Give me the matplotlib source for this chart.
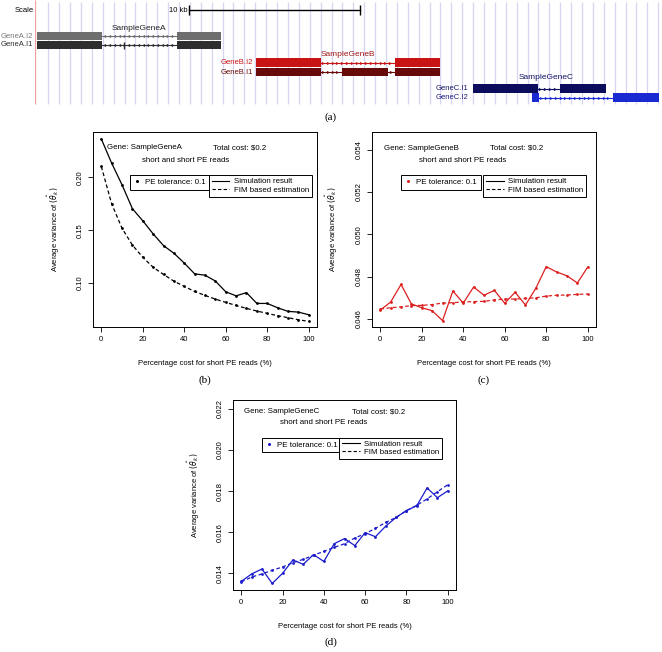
import numpy as np
import matplotlib.pyplot as plt
from matplotlib.lines import Line2D

plt.rcParams['font.family'] = ['Liberation Sans', 'DejaVu Sans']
plt.rcParams['mathtext.fontset'] = 'dejavusans'

# ---- data: percentage cost for short PE reads
pct = [0, 5, 10, 15, 20, 25, 30, 35, 40, 45, 50, 55, 60, 65, 70, 75, 80, 85, 90, 95, 100]

# Gene A
sim_a = [0.2365, 0.2135, 0.1930, 0.1704, 0.1590, 0.1466, 0.1355, 0.1283, 0.1190, 0.1088, 0.1075,
         0.1020, 0.0918, 0.0880, 0.0910, 0.0808, 0.0808, 0.0767, 0.0733, 0.0726, 0.0701]
fim_a = [0.2104, 0.1750, 0.1519, 0.1360, 0.1245, 0.1150, 0.1082, 0.1019, 0.0969, 0.0921, 0.0884,
         0.0849, 0.0818, 0.0789, 0.0761, 0.0736, 0.0714, 0.0692, 0.0673, 0.0654, 0.0638]

# Gene B
sim_b = [0.04642, 0.04680, 0.04763, 0.04671, 0.04653, 0.04639, 0.04592, 0.04732, 0.04675, 0.04751, 0.04712,
         0.04735, 0.04674, 0.04726, 0.04666, 0.04745, 0.04847, 0.04822, 0.04804, 0.04770, 0.04845]
fim_b = [0.04647, 0.04653, 0.04657, 0.04663, 0.04664, 0.04668, 0.04675, 0.04677, 0.04680, 0.04682, 0.04683,
         0.04690, 0.04694, 0.04694, 0.04697, 0.04700, 0.04708, 0.04712, 0.04713, 0.04716, 0.04718]

# Gene C
sim_c = [0.01361, 0.01397, 0.01421, 0.01351, 0.01400, 0.01465, 0.01444, 0.01491, 0.01458, 0.01544, 0.01569,
         0.01535, 0.01598, 0.01578, 0.01630, 0.01672, 0.01705, 0.01729, 0.01815, 0.01768, 0.01801]
fim_c = [0.01358, 0.01382, 0.01397, 0.01415, 0.01431, 0.01452, 0.01468, 0.01488, 0.01507, 0.01526, 0.01544,
         0.01572, 0.01593, 0.01619, 0.01648, 0.01672, 0.01705, 0.01731, 0.01762, 0.01797, 0.01831]

gene_names = ['SampleGeneA', 'SampleGeneB', 'SampleGeneC']
total_cost = '$0.2'
pe_tolerance = 0.1

# ---- gene track (positions in kb)
track_len_kb = 36.67
scale_start_kb = 9.0
scale_len_kb = 10
iso_names = ['GeneA.I2', 'GeneA.I1', 'GeneB.I2', 'GeneB.I1', 'GeneC.I1', 'GeneC.I2']
iso_exons = [
    [(0.1, 3.9), (8.3, 10.9)],
    [(0.1, 3.9), (8.3, 10.9)],
    [(12.9, 16.7), (21.05, 23.7)],
    [(12.9, 16.7), (17.95, 20.65), (21.05, 23.7)],
    [(25.6, 29.4), (30.7, 33.4)],
    [(29.05, 29.47), (33.8, 36.5)],
]
iso_label_kb = [-0.1, -0.1, 12.75, 12.75, 25.35, 25.35]
iso_strand = ['-', '-', '+', '+', '+', '+']
iso_colors = ['#6e6e6e', '#2e2e2e', '#c81414', '#680a0a', '#0c0c5c', '#1a2ad2']
iso_label_colors = ['#7a7a7a', '#2e2e2e', '#c81414', '#680a0a', '#141464', '#1c1c80']
iso_rows = [36, 45, 62.5, 72, 88.5, 97.5]
gene_label_pos = [(6.1, 29), (18.3, 55), (29.9, 77.5)]
gene_label_colors = ['#222222', '#a01818', '#141464']

W, H = 662, 652
fig = plt.figure(figsize=(W / 100, H / 100), dpi=100)


def add_px_axes(left, top, right, bottom):
    return fig.add_axes([left / W, 1 - bottom / H, (right - left) / W, (bottom - top) / H])


# ---------------- (a) gene track
ta = add_px_axes(35, 0, 662, 110)
ta.set_xlim(0, track_len_kb)
ta.set_ylim(110, 0)
ta.axis('off')
grid_kb = np.arange(0.78, track_len_kb, 0.637)
ta.vlines(grid_kb, 2, 104, color='#d6d6f2', lw=0.9, zorder=0)
ta.vlines(0, 0, 104, color='#f2a0a0', lw=0.9, zorder=0)

# scale bar
ta.plot([scale_start_kb, scale_start_kb + scale_len_kb], [10, 10], color='black', lw=1)
ta.vlines([scale_start_kb, scale_start_kb + scale_len_kb], 5, 15, color='black', lw=1)
ta.text(scale_start_kb - 0.1, 10, '10 kb', ha='right', va='center', fontsize=5.5)
ta.text(-0.05, 10, 'Scale', ha='right', va='center', fontsize=5.5)

for name, exons, strand, col, lcol, lx, row in zip(iso_names, iso_exons, iso_strand, iso_colors,
                                                   iso_label_colors, iso_label_kb, iso_rows):
    for s, e in exons:
        ta.add_patch(plt.Rectangle((s, row - 4.2), e - s, 8.4, facecolor=col, edgecolor='none', zorder=3))
    for (s0, e0), (s1, e1) in zip(exons[:-1], exons[1:]):
        ta.plot([e0, s1], [row, row], color=col, lw=0.8, zorder=2)
        marks = np.arange(e0 + 0.15, s1 - 0.05, 0.28)
        ta.plot(marks, [row] * len(marks), ls='none', marker='>' if strand == '+' else '<',
                ms=2.3, color=col, mew=0, zorder=2)
    ta.text(lx, row, name, ha='right', va='center', fontsize=5.5, color=lcol)
ta.vlines(5.2, 41.5, 48.5, color=iso_colors[1], lw=1, zorder=3)

for g, (gx, gy), gc in zip(gene_names, gene_label_pos, gene_label_colors):
    ta.text(gx, gy, g, ha='center', va='center', fontsize=6, color=gc)

fig.text(331 / W, 1 - 117 / H, '(a)', ha='center', va='center', fontsize=8, family='Liberation Serif')

# ---------------- line panels
panels = [
    dict(box=(93, 132, 317, 327), sim=sim_a, fim=fim_a, color='black', gene=gene_names[0],
         ylim=(0.0585, 0.2430), yticks=[0.10, 0.15, 0.20], fmt='%.2f',
         txt=(0.061, 0.918, 0.534, 0.217, 0.856), leg1=(0.165, 0.779), leg2=(0.518, 0.779),
         cap='(b)', cap_xy=(205, 380)),
    dict(box=(372, 132, 596, 327), sim=sim_b, fim=fim_b, color='#dd2020', gene=gene_names[1],
         ylim=(0.04562, 0.05483), yticks=[0.046, 0.048, 0.050, 0.052, 0.054], fmt='%.3f',
         txt=(0.054, 0.916, 0.527, 0.211, 0.856), leg1=(0.129, 0.779), leg2=(0.497, 0.779),
         cap='(c)', cap_xy=(484, 380)),
    dict(box=(233, 400, 456, 590), sim=sim_c, fim=fim_c, color='#1c1ccc', gene=gene_names[2],
         ylim=(0.01319, 0.02243), yticks=[0.014, 0.016, 0.018, 0.020, 0.022], fmt='%.3f',
         txt=(0.051, 0.938, 0.532, 0.211, 0.881), leg1=(0.129, 0.802), leg2=(0.477, 0.802),
         cap='(d)', cap_xy=(331, 642)),
]

fs = 5.5
for p in panels:
    l, t, r, b = p['box']
    ax = add_px_axes(l, t, r, b)
    c = p['color']
    ax.plot(pct, p['sim'], color=c, lw=0.9, marker='o', ms=2.0, mew=0)
    ax.plot(pct, p['fim'], color=c, lw=0.9, ls=(0, (3, 2)), marker='o', ms=2.0, mew=0)
    ax.set_xlim(-4, 104)
    ax.set_ylim(*p['ylim'])
    ax.set_xticks([0, 20, 40, 60, 80, 100])
    ax.set_yticks(p['yticks'])
    ax.set_yticklabels([p['fmt'] % v for v in p['yticks']], rotation=90, va='center')
    ax.tick_params(labelsize=fs, length=3.5, width=0.6, pad=3)
    for sp in ax.spines.values():
        sp.set_linewidth(0.7)
    ax.set_xlabel('Percentage cost for short PE reads (%)', fontsize=fs)
    ax.set_ylabel(r'Average variance of $(\hat{\theta}_k)$', fontsize=fs)
    ax.xaxis.set_label_coords(0.5, -33 / (b - t))
    ax.yaxis.set_label_coords(-31.5 / (r - l), 0.5)

    gx, gy, cx, sx, sy = p['txt']
    ax.text(gx, gy, 'Gene: ' + p['gene'], transform=ax.transAxes, fontsize=5.7, va='center')
    ax.text(cx, gy, 'Total cost: ' + total_cost, transform=ax.transAxes, fontsize=5.7, va='center')
    ax.text(sx, sy, 'short and short PE reads', transform=ax.transAxes, fontsize=5.7, va='center')

    h1 = [Line2D([], [], ls='none', marker='o', ms=2.2, mew=0, color=c)]
    leg1 = ax.legend(h1, ['PE tolerance: %g' % pe_tolerance], loc='upper left', bbox_to_anchor=p['leg1'],
                     fontsize=5.7, frameon=True, fancybox=False, edgecolor='black', framealpha=1,
                     borderaxespad=0, borderpad=0.45, handlelength=1.0, handletextpad=0.5)
    leg1.get_frame().set_linewidth(0.7)
    ax.add_artist(leg1)
    h2 = [Line2D([], [], color='black', lw=0.8), Line2D([], [], color='black', lw=0.8, ls=(0, (3, 2)))]
    leg2 = ax.legend(h2, ['Simulation result', 'FIM based estimation'], loc='upper left',
                     bbox_to_anchor=p['leg2'], fontsize=5.7, frameon=True, fancybox=False,
                     edgecolor='black', framealpha=1, borderaxespad=0, borderpad=0.35,
                     handlelength=2.2, handletextpad=0.6, labelspacing=0.1)
    leg2.get_frame().set_linewidth(0.7)

    fig.text(p['cap_xy'][0] / W, 1 - p['cap_xy'][1] / H, p['cap'], ha='center', va='center',
             fontsize=8, family='Liberation Serif')

fig.savefig('out.png', dpi=100)
